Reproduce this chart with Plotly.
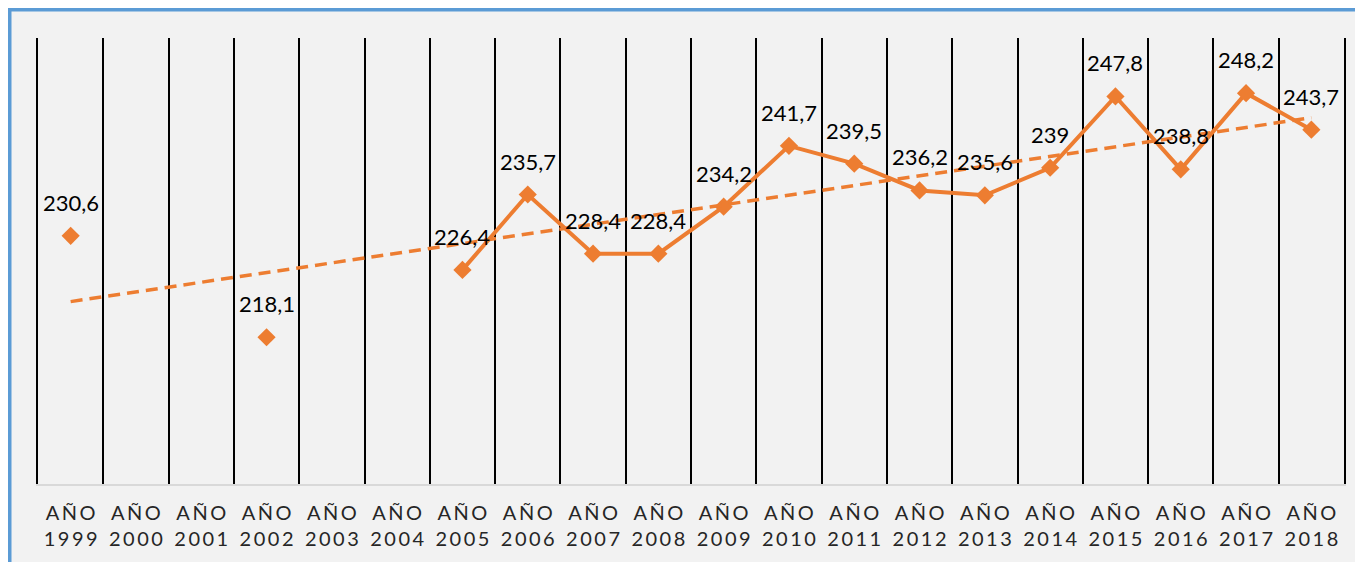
import numpy as np
import plotly.graph_objects as go

years = [1999, 2000, 2001, 2002, 2003, 2004, 2005, 2006, 2007, 2008,
         2009, 2010, 2011, 2012, 2013, 2014, 2015, 2016, 2017, 2018]
values = [230.6, None, None, 218.1, None, None, 226.4, 235.7, 228.4, 228.4,
          234.2, 241.7, 239.5, 236.2, 235.6, 239.0, 247.8, 238.8, 248.2, 243.7]

ORANGE = "#ED7D31"
SP = "\u2009"
labels = [SP.join("AÑO") + "<br>" + SP.join(str(y)) for y in years]

# linear trendline (Excel-style) over category index
idx = np.array([i + 1 for i, v in enumerate(values) if v is not None], dtype=float)
vals = np.array([v for v in values if v is not None], dtype=float)
slope, intercept = np.polyfit(idx, vals, 1)
trend = [slope * (i + 1) + intercept for i in range(len(years))]

fig = go.Figure()
fig.add_trace(go.Scatter(
    x=labels, y=values, mode="lines+markers",
    line=dict(color=ORANGE, width=4),
    marker=dict(symbol="diamond", size=14, color=ORANGE),
    connectgaps=False, showlegend=False, hoverinfo="skip"))
fig.add_trace(go.Scatter(
    x=labels, y=trend, mode="lines",
    line=dict(color=ORANGE, width=3.5, dash="12px,7px"),
    showlegend=False, hoverinfo="skip"))

for lab, v in zip(labels, values):
    if v is None:
        continue
    fig.add_annotation(x=lab, y=v, text=f"{v:g}".replace(".", ","),
                       showarrow=False, yanchor="bottom", yshift=18,
                       font=dict(family="Lato", size=22, color="#000000"))

# page has an 8px body margin; figure is laid out to compensate
W, H = 1355, 554
L, T, R, B = 30, 30, 19, 78
PW, PH = W - L - R, H - T - B

# outer frame (blue border on chart area)
fig.add_shape(type="rect", xref="paper", yref="paper",
              x0=(1.5 - L) / PW, x1=1.2, y0=-0.5, y1=(PH + T - 1.5) / PH,
              fillcolor="#F2F2F2", line=dict(color="#5B9BD5", width=4),
              layer="below")

fig.update_layout(
    width=W, height=H,
    margin=dict(l=L, r=R, t=T, b=B, autoexpand=False),
    paper_bgcolor="#F2F2F2", plot_bgcolor="#F2F2F2",
    font=dict(family="Lato", size=20, color="#262626"),
)
fig.update_xaxes(type="category", tickson="boundaries", showgrid=True,
                 range=[-0.5, len(years) - 0.5], automargin=False,
                 gridcolor="#000000", gridwidth=1.5, ticks="", tickangle=0,
                 showline=True, linecolor="#D9D9D9", linewidth=1.5,
                 tickfont=dict(family="Lato", size=20, color="#262626"),
                 zeroline=False, ticklabelstandoff=10)
fig.update_yaxes(range=[200, 255], showgrid=False, showticklabels=False,
                 showline=True, mirror=True, linecolor="#000000", linewidth=1.5,
                 zeroline=False, ticks="", automargin=False)

fig.write_html("out.html")
